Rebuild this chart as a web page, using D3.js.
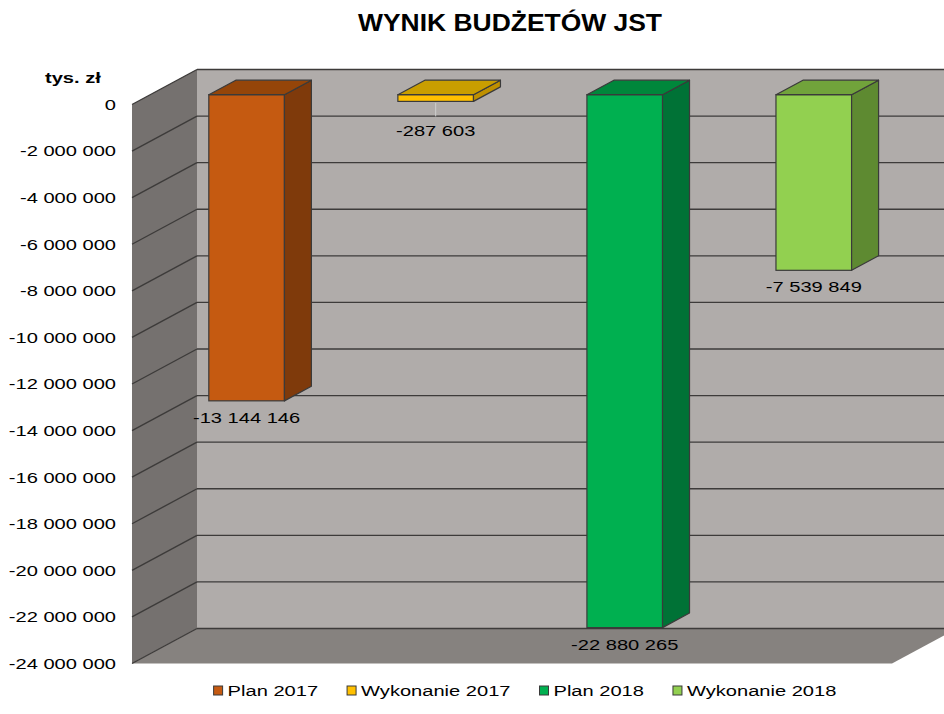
<!DOCTYPE html>
<html>
<head>
<meta charset="utf-8">
<script src="https://cdn.jsdelivr.net/npm/d3@7"></script>
<style>
body { margin: 0; background: #fff; }
svg { display: block; font-family: "Liberation Sans", Arial, sans-serif; }
</style>
</head>
<body>
<svg width="944" height="714"></svg>
<script>
// data
const series = ["Plan 2017", "Wykonanie 2017", "Plan 2018", "Wykonanie 2018"]
const values = [-13144146, -287603, -22880265, -7539849]
const colors = ["#c55a11", "#ffc000", "#00b050", "#92d050"]
const sideColors = ["#7f3a0b", "#bf9000", "#007236", "#5e8a31"]
const topColors = ["#954509", "#c99e00", "#00873b", "#71a33b"]
const title = "WYNIK BUDŻETÓW JST"
const unit = "tys. zł"

const svg = d3.select("svg")

const pl = d3.formatLocale({decimal: ",", thousands: " ", grouping: [3], currency: ["", " zł"], minus: "-"})
const fmt = pl.format(",d")

// stretch used by the original picture
const sx = 1.34

// 3d depth of the chart box
const depth = {dx: 65, dy: -35}
const barFront = 0.28, barBack = 0.695

const x = d3.scaleBand()
	.domain(series)
	.range([132, 892])
	.paddingInner(0.6)
	.paddingOuter(0.31)

const y = d3.scaleLinear()
	.domain([-24000000, 0])
	.range([663.5, 104.5])

const ticks = y.ticks(12)

//walls
const x0 = x.range()[0], x1 = x.range()[1]
const yTop = y(0), yBot = y(-24000000)

svg.append("polygon")
	.attr("points", [[x0 + depth.dx, yTop + depth.dy], [x1 + depth.dx, yTop + depth.dy], [x1 + depth.dx, yBot + depth.dy], [x0 + depth.dx, yBot + depth.dy]].join(" "))
	.attr("fill", "#b0acaa")

svg.append("polygon")
	.attr("points", [[x0, yTop], [x0 + depth.dx, yTop + depth.dy], [x0 + depth.dx, yBot + depth.dy], [x0, yBot]].join(" "))
	.attr("fill", "#75716f")

svg.append("polygon")
	.attr("points", [[x0, yBot], [x0 + depth.dx, yBot + depth.dy], [x1 + depth.dx, yBot + depth.dy], [x1, yBot]].join(" "))
	.attr("fill", "#86827f")

//gridlines
svg.selectAll("line.gridBack")
	.data(ticks)
	.enter()
	.append("line")
	.attr("class", "gridBack")
	.attr("x1", x0 + depth.dx)
	.attr("x2", x1 + depth.dx)
	.attr("y1", d => y(d) + depth.dy)
	.attr("y2", d => y(d) + depth.dy)
	.attr("stroke", "#3d3b3a")
	.attr("stroke-width", 1.4)

svg.selectAll("line.gridSide")
	.data(ticks)
	.enter()
	.append("line")
	.attr("class", "gridSide")
	.attr("x1", x0)
	.attr("x2", x0 + depth.dx)
	.attr("y1", d => y(d))
	.attr("y2", d => y(d) + depth.dy)
	.attr("stroke", "#3d3b3a")
	.attr("stroke-width", 1.4)

//tick labels
svg.selectAll("text.tick")
	.data(ticks)
	.enter()
	.append("text")
	.attr("class", "tick")
	.attr("transform", d => `translate(116,${y(d)}) scale(${sx},1)`)
	.attr("dy", "0.36em")
	.attr("text-anchor", "end")
	.style("font-size", "15px")
	.text(d => fmt(d))

svg.append("text")
	.attr("transform", `translate(45,83) scale(${sx},1)`)
	.style("font-size", "15px")
	.style("font-weight", "bold")
	.text(unit)

//bars
const fdx = depth.dx * barFront, fdy = depth.dy * barFront
const bdx = depth.dx * (barBack - barFront), bdy = depth.dy * (barBack - barFront)

const bars = svg.selectAll("g.bar")
	.data(series)
	.enter()
	.append("g")
	.attr("class", "bar")

bars.each(function (s, i) {
	const g = d3.select(this)
	const left = x(s) + fdx
	const right = left + x.bandwidth()
	const top = y(0) + fdy
	const bottom = y(values[i]) + fdy

	g.append("rect")
		.attr("x", left)
		.attr("y", top)
		.attr("width", right - left)
		.attr("height", bottom - top)
		.attr("fill", colors[i])
		.attr("stroke", "#3a3a3a")
		.attr("stroke-width", 1.2)

	g.append("polygon")
		.attr("points", [[right, top], [right + bdx, top + bdy], [right + bdx, bottom + bdy], [right, bottom]].join(" "))
		.attr("fill", sideColors[i])
		.attr("stroke", "#3a3a3a")
		.attr("stroke-width", 1.2)
		.attr("stroke-linejoin", "round")

	g.append("polygon")
		.attr("points", [[left, top], [left + bdx, top + bdy], [right + bdx, top + bdy], [right, top]].join(" "))
		.attr("fill", topColors[i])
		.attr("stroke", "#3a3a3a")
		.attr("stroke-width", 1.2)
		.attr("stroke-linejoin", "round")

	// small bars get their label pushed down with a leader line
	const cx = (left + right) / 2
	let ly = bottom + 22
	if (bottom - top < 20) {
		ly = bottom + 34.5
		g.append("line")
			.attr("x1", cx)
			.attr("x2", cx)
			.attr("y1", bottom + 1.5)
			.attr("y2", bottom + 15)
			.attr("stroke", "#cfcfcf")
			.attr("stroke-width", 1)
	}

	g.append("text")
		.attr("transform", `translate(${cx},${ly}) scale(${sx},1)`)
		.attr("text-anchor", "middle")
		.style("font-size", "15px")
		.text(fmt(values[i]))
})

//title
svg.append("text")
	.attr("transform", `translate(510,31) scale(1.15,1)`)
	.attr("text-anchor", "middle")
	.style("font-size", "23px")
	.style("font-weight", "bold")
	.text(title)

//legend
const legend = svg.append("g")
const items = legend.selectAll("g")
	.data(series)
	.enter()
	.append("g")

items.append("rect")
	.attr("x", 0)
	.attr("y", -10)
	.attr("width", 9)
	.attr("height", 9)
	.attr("fill", (d, i) => colors[i])
	.attr("stroke", "#3a3a3a")
	.attr("stroke-width", 1)

items.append("text")
	.attr("transform", `translate(14,0) scale(${sx},1)`)
	.style("font-size", "15px")
	.text(d => d)

let pos = 0
items.each(function () {
	const w = d3.select(this).select("text").node().getComputedTextLength() * sx
	d3.select(this).attr("transform", `translate(${pos},0)`)
	pos += 14 + w + 29
})
pos -= 29
legend.attr("transform", `translate(${525 - pos / 2},696)`)
</script>
</body>
</html>
